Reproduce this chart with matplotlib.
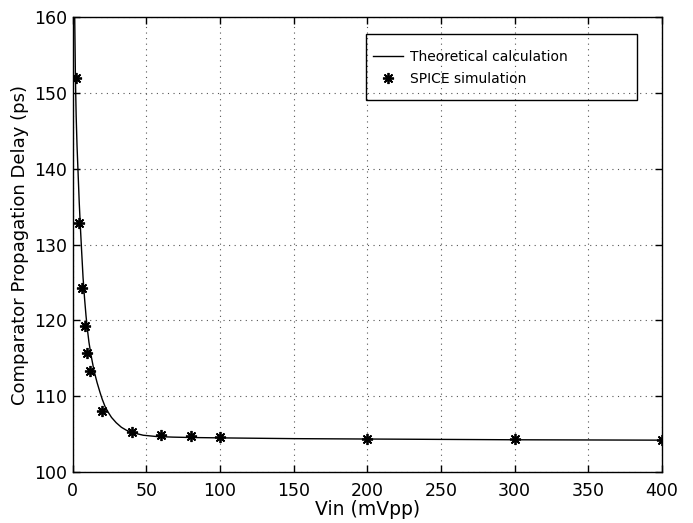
import matplotlib
matplotlib.use("Agg")
import matplotlib.pyplot as plt
from matplotlib.patches import Rectangle

plt.rcParams['font.family'] = ['DejaVu Sans']

# Theoretical curve
theory_x = [1.2, 1.8, 2.3, 2.9, 3.6, 4.4, 5.2, 6.0, 7.0, 8.0, 9.0, 10.0, 11.0, 12.5,
            14.5, 16.5, 18.5, 20.0, 22.0, 24.0, 26.3, 29.5, 33.0, 36.5, 40.5, 47.8,
            56.8, 68.0, 80.0, 100.0, 150.0, 200.0, 300.0, 400.0]
theory_y = [162.0, 152.0, 147.0, 143.0, 139.5, 135.5, 132.2, 129.2, 125.6, 122.9,
            120.6, 118.7, 117.1, 115.3, 113.3, 111.8, 110.5, 109.6, 108.6, 107.9,
            107.2, 106.5, 105.9, 105.5, 105.2, 104.85, 104.68, 104.6, 104.55, 104.5,
            104.4, 104.35, 104.25, 104.2]

# SPICE simulation points
spice_x = [2, 4, 6, 8, 10, 12, 20, 40, 60, 80, 100, 200, 300, 400]
spice_y = [152.0, 132.8, 124.3, 119.3, 115.7, 113.3, 108.1, 105.3, 104.9, 104.7,
           104.6, 104.4, 104.3, 104.2]

xticks = [0, 50, 100, 150, 200, 250, 300, 350, 400]
yticks = [100, 110, 120, 130, 140, 150, 160]

fig = plt.figure(figsize=(6.93, 5.23), dpi=100)
ax = fig.add_axes([0.105, 0.0975, 0.850, 0.870])

ax.plot(theory_x, theory_y, color='black', linewidth=1.0, label='Theoretical calculation')
ax.plot(spice_x, spice_y, linestyle='none', marker=(8, 2, 0), markersize=8,
        markeredgewidth=1.3, color='black', label='SPICE simulation')

ax.set_xlim(0, 400)
ax.set_ylim(100, 160)
ax.set_xticks(xticks)
ax.set_yticks(yticks)
ax.tick_params(direction='in', length=5, width=1, labelsize=12.5, top=True, right=True)
ax.tick_params(axis='x', pad=7)
ax.tick_params(axis='y', pad=4)
ax.grid(True, linestyle=(0, (1, 4)), color='#555555', linewidth=0.8)
for s in ax.spines.values():
    s.set_linewidth(1.0)

ax.set_xlabel('Vin (mVpp)', fontsize=13.5, labelpad=0)
ax.set_ylabel('Comparator Propagation Delay (ps)', fontsize=13, labelpad=4)

# legend frame (transparent, grid visible through it)
ax.add_patch(Rectangle((0.4975, 0.8176), 0.4601, 0.1450, transform=ax.transAxes,
                       facecolor='none', edgecolor='black', linewidth=1.0,
                       zorder=5, clip_on=False))
leg = ax.legend(loc='upper left', bbox_to_anchor=(0.509, 0.927), fontsize=10,
                frameon=False, handlelength=2.2, handletextpad=0.5, borderpad=0,
                labelspacing=0.55, borderaxespad=0)

fig.savefig('out.png', dpi=100)
